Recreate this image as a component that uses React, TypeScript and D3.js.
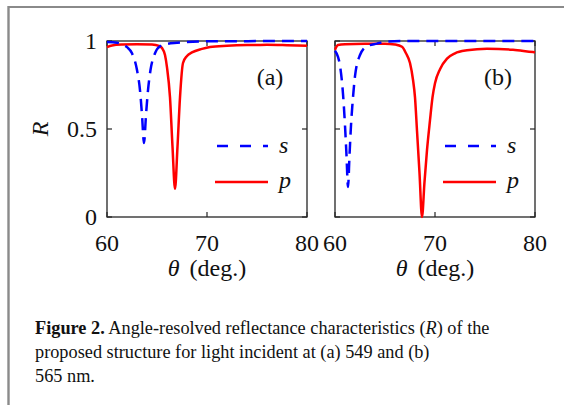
import React from "react";
import * as d3 from "d3";

// Reflectance vs incidence angle, read as [theta (deg), R]
const sA: [number, number][] = [
  [60, 0.995], [61, 0.99], [61.5, 0.982], [62, 0.965], [62.5, 0.93], [63, 0.835],
  [63.3, 0.72], [63.5, 0.58], [63.7, 0.42], [63.9, 0.58], [64.1, 0.72], [64.35, 0.835],
  [64.8, 0.93], [65.3, 0.97], [66, 0.983], [67, 0.99], [68, 0.995], [70, 0.998], [80, 1.0],
];
const pA: [number, number][] = [
  [60, 0.965], [60.5, 0.975], [61.5, 0.98], [63, 0.982], [64.5, 0.98], [65.2, 0.972],
  [65.5, 0.96], [65.8, 0.92], [66.0, 0.85], [66.3, 0.68], [66.55, 0.4], [66.8, 0.16],
  [67.05, 0.4], [67.3, 0.68], [67.6, 0.875], [68, 0.915], [68.5, 0.935], [69.5, 0.955],
  [70.3, 0.966], [72, 0.973], [74, 0.977], [76, 0.978], [78, 0.976], [80, 0.973],
];
const sB: [number, number][] = [
  [60, 0.945], [60.3, 0.91], [60.5, 0.86], [60.8, 0.7], [61.0, 0.52], [61.15, 0.35],
  [61.3, 0.17], [61.45, 0.35], [61.6, 0.52], [61.8, 0.68], [62.0, 0.8], [62.5, 0.92],
  [63.2, 0.97], [64.2, 0.985], [65, 0.995], [67, 1.0], [80, 1.0],
];
const pB: [number, number][] = [
  [60, 0.95], [60.3, 0.977], [61, 0.982], [63, 0.985], [65, 0.985], [66, 0.98],
  [66.7, 0.967], [67.1, 0.93], [67.5, 0.875], [67.8, 0.78], [68.0, 0.68], [68.2, 0.49],
  [68.45, 0.25], [68.7, 0.0], [68.95, 0.2], [69.2, 0.38], [69.5, 0.55], [69.75, 0.68],
  [70.0, 0.76], [70.5, 0.84], [71.2, 0.9], [72, 0.93], [73.2, 0.947], [75.2, 0.956],
  [77.8, 0.95], [79.8, 0.937], [80, 0.936],
];

const xTicks = [60, 70, 80];
const yTicks = [0, 0.5, 1];
const yTickLabels = ["0", "0.5", "1"];
const panelTags = ["(a)", "(b)"];
const legendNames = ["s", "p"];

const serif = "'Liberation Serif', 'DejaVu Serif', serif";
const axisColor = "#262626";
const blue = "#0000ff";
const red = "#ff0000";
const fs = 24;

type Props = { left: number; s: [number, number][]; p: [number, number][]; tag: string; showY: boolean };

function Panel({ left, s, p, tag, showY }: Props) {
  const x = d3.scaleLinear().domain([60, 80]).range([left, left + 200]);
  const y = d3.scaleLinear().domain([0, 1]).range([217, 41]);
  const line = d3
    .line<[number, number]>()
    .x((d) => x(d[0]))
    .y((d) => y(d[1]))
    .curve(d3.curveMonotoneX);
  const tl = 5;
  const clipId = `clip-${tag.replace(/[()]/g, "")}`;
  return (
    <g>
      <defs>
        <clipPath id={clipId}>
          <rect x={left - 2} y={38} width={204} height={181} />
        </clipPath>
      </defs>
      {/* ticks on all four sides */}
      {xTicks.map((t) => (
        <g key={`xt${t}`} stroke={axisColor} strokeWidth={1.2}>
          <line x1={x(t)} x2={x(t)} y1={y(0)} y2={y(0) - tl} />
          <line x1={x(t)} x2={x(t)} y1={y(1)} y2={y(1) + tl} />
        </g>
      ))}
      {yTicks.map((t) => (
        <g key={`yt${t}`} stroke={axisColor} strokeWidth={1.2}>
          <line x1={x(60)} x2={x(60) + tl} y1={y(t)} y2={y(t)} />
          <line x1={x(80)} x2={x(80) - tl} y1={y(t)} y2={y(t)} />
        </g>
      ))}
      <rect x={x(60)} y={y(1)} width={x(80) - x(60)} height={y(0) - y(1)} fill="none" stroke={axisColor} strokeWidth={1.3} />
      <g clipPath={`url(#${clipId})`}>
        <path d={line(p) ?? ""} fill="none" stroke={red} strokeWidth={2.5} />
        <path d={line(s) ?? ""} fill="none" stroke={blue} strokeWidth={2.5} strokeDasharray="12,7" />
      </g>
      {/* tick labels */}
      {xTicks.map((t) => (
        <text key={`xl${t}`} x={x(t)} y={251} textAnchor="middle" fontFamily={serif} fontSize={fs} fill="#111">
          {t}
        </text>
      ))}
      {showY &&
        yTicks.map((t, i) => (
          <text key={`yl${t}`} x={97} y={y(t) + 8} textAnchor="end" fontFamily={serif} fontSize={fs} fill="#111">
            {yTickLabels[i]}
          </text>
        ))}
      {showY && (
        <text transform={`translate(48,${y(0.5)}) rotate(-90)`} textAnchor="middle" fontFamily={serif} fontStyle="italic" fontSize={fs} fill="#111">
          R
        </text>
      )}
      <text x={x(70)} y={276} textAnchor="middle" fontFamily={serif} fontSize={fs} fill="#111">
        <tspan fontStyle="italic">θ</tspan>
        <tspan dx={4}> (deg.)</tspan>
      </text>
      <text x={left + 163} y={85} textAnchor="middle" fontFamily={serif} fontSize={fs} fill="#111">
        {tag}
      </text>
      {/* legend */}
      <line x1={left + 110} x2={left + 161} y1={146} y2={146} stroke={blue} strokeWidth={2.5} strokeDasharray="11,12" />
      <text x={left + 172} y={153} fontFamily={serif} fontStyle="italic" fontSize={fs} fill="#111">
        {legendNames[0]}
      </text>
      <line x1={left + 108} x2={left + 161} y1={182} y2={182} stroke={red} strokeWidth={2.5} />
      <text x={left + 172} y={188} fontFamily={serif} fontStyle="italic" fontSize={fs} fill="#111">
        {legendNames[1]}
      </text>
    </g>
  );
}

export default function App() {
  return (
    <svg width={564} height={405} style={{ position: "absolute", left: 0, top: 0, background: "#fff" }}>
      <rect x={0} y={0} width={564} height={405} fill="#fff" />
      <line x1={8.5} x2={564} y1={7} y2={7} stroke="#8a8a8a" strokeWidth={2} />
      <line x1={8.5} x2={8.5} y1={6} y2={405} stroke="#8a8a8a" strokeWidth={2.4} />
      <Panel left={107} s={sA} p={pA} tag={panelTags[0]} showY={true} />
      <Panel left={335} s={sB} p={pB} tag={panelTags[1]} showY={false} />
      <g fontFamily={serif} fontSize={18.3} fill="#111">
        <text x={35} y={334}>
          <tspan fontWeight="bold">Figure 2.</tspan>
          <tspan> Angle-resolved reflectance characteristics (</tspan>
          <tspan fontStyle="italic">R</tspan>
          <tspan>) of the</tspan>
        </text>
        <text x={35} y={358}>proposed structure for light incident at (a) 549 and (b)</text>
        <text x={35} y={382}>565 nm.</text>
      </g>
    </svg>
  );
}
